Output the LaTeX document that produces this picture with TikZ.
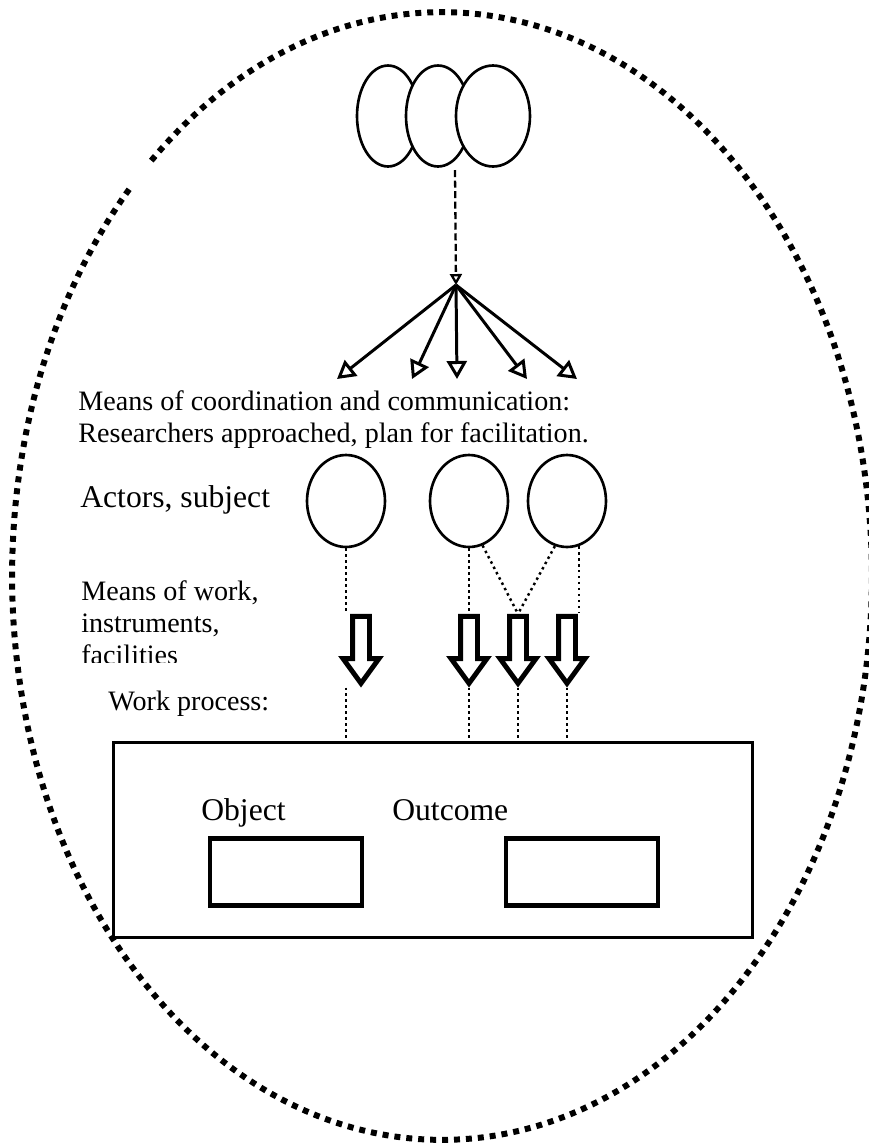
\documentclass[tikz,border=0pt]{standalone}
\usepackage{fontspec}
\setmainfont{Liberation Serif}
\usetikzlibrary{shapes.geometric,shapes.arrows,arrows.meta}
\newcommand{\textcoord}{Means of coordination and communication:\\ Researchers approached, plan for facilitation.}
\newcommand{\textmeans}{Means of work,\\ instruments,\\ facilities}

\begin{document}
\begin{tikzpicture}[x=0.02cm,y=-0.02cm,
    every node/.style={font=\fontsize{16pt}{18.2pt}\selectfont},
    oval/.style={draw,ellipse,line width=1.5pt,fill=white,inner sep=0pt},
    crowd/.style={oval,minimum height=2.02cm},
    actor/.style={oval,minimum width=1.56cm,minimum height=1.84cm},
    note/.style={anchor=base west,align=left,inner sep=0pt},
    bignote/.style={note,font=\fontsize{18pt}{20pt}\selectfont},
    block/.style={note,anchor=north west},
    instr/.style={draw,single arrow,rotate=-90,fill=white,line width=2.8pt,inner sep=0.12cm,
        single arrow head extend=0.19cm,single arrow tip angle=72,single arrow head indent=0pt,
        minimum height=1.34cm,minimum width=0.62cm},
    link/.style={dotted,line width=1.4pt},
    fan/.style={line width=1.7pt,-{Triangle[open,length=0.36cm,width=0.4cm]}},
    slot/.style={draw,line width=2.6pt,minimum width=3.04cm,minimum height=1.34cm,inner sep=0pt},
    rim/.style={line width=3.4pt,dash pattern=on 3.4pt off 3.4pt}
]
\useasboundingbox (0,0) rectangle (869,1144);

% outer boundary, open at the upper left
\draw[rim] (442,576) ++(136.7:8.6cm and 11.28cm) arc[start angle=136.7,end angle=492.7,x radius=8.6cm,y radius=11.28cm];

% group at the top
\node[crowd,minimum width=1.24cm] (c1) at (388,116) {};
\node[crowd,minimum width=1.28cm] (c2) at (438,116) {};
\node[crowd,minimum width=1.48cm] (c3) at (493,116) {};
\coordinate (junc) at (455,170);
\coordinate (hub) at (456,285);
\draw[line width=1.3pt,dash pattern=on 4pt off 2pt,-{Triangle[open,length=0.22cm,width=0.24cm]}] (junc) -- (hub);
\foreach \ex [count=\i] in {337,412,457,527,577}
    \coordinate (m\i) at (\ex,379);
\foreach \i in {1,...,5}
    \draw[fan] (hub) -- (m\i);

\node[block] (coord) at (78,390) {\textcoord};
\node[bignote] (actors) at (80,507) {Actors, subject};
\begin{scope}
    \clip (60,560) rectangle (320,662);
    \node[block] (means) at (81,580) {\textmeans};
\end{scope}
\node[note] (work) at (108,710) {Work process:};

% actors
\node[actor] (a1) at (346,501) {};
\node[actor] (a2) at (469,501) {};
\node[actor] (a3) at (567,501) {};

% instruments
\node[instr] (w1) at (361,644) {};
\node[instr] (w2) at (469,644) {};
\node[instr] (w3) at (518,644) {};
\node[instr] (w4) at (567,644) {};

% work process
\node[draw,line width=1.7pt,minimum width=12.8cm,minimum height=3.92cm,inner sep=0pt] (proc) at (433,840) {};
\node[bignote] (objlbl) at (201,820) {Object};
\node[bignote] (outlbl) at (392,820) {Outcome};
\node[slot] (obj) at (286,872) {};
\node[slot] (out) at (582,872) {};

\draw[link] (a1.south) -- (a1.south |- w1.tail);
\draw[link] (a1.south |- w1.tip) -- (a1.south |- proc.north);
\draw[link] (a2.south) -- (a2.south |- w2.tail);
\draw[link] (a2.south |- w2.tip) -- (a2.south |- proc.north);
\draw[link] (a2.-73) -- (w3.tail);
\draw[link] (a3.-105) -- (w3.tail);
\draw[link] (w3.tip) -- (w3.tip |- proc.north);
\draw[link] (a3.-75) -- ++(0,67);
\draw[link] (w4.tip) -- (w4.tip |- proc.north);
\end{tikzpicture}
\end{document}
